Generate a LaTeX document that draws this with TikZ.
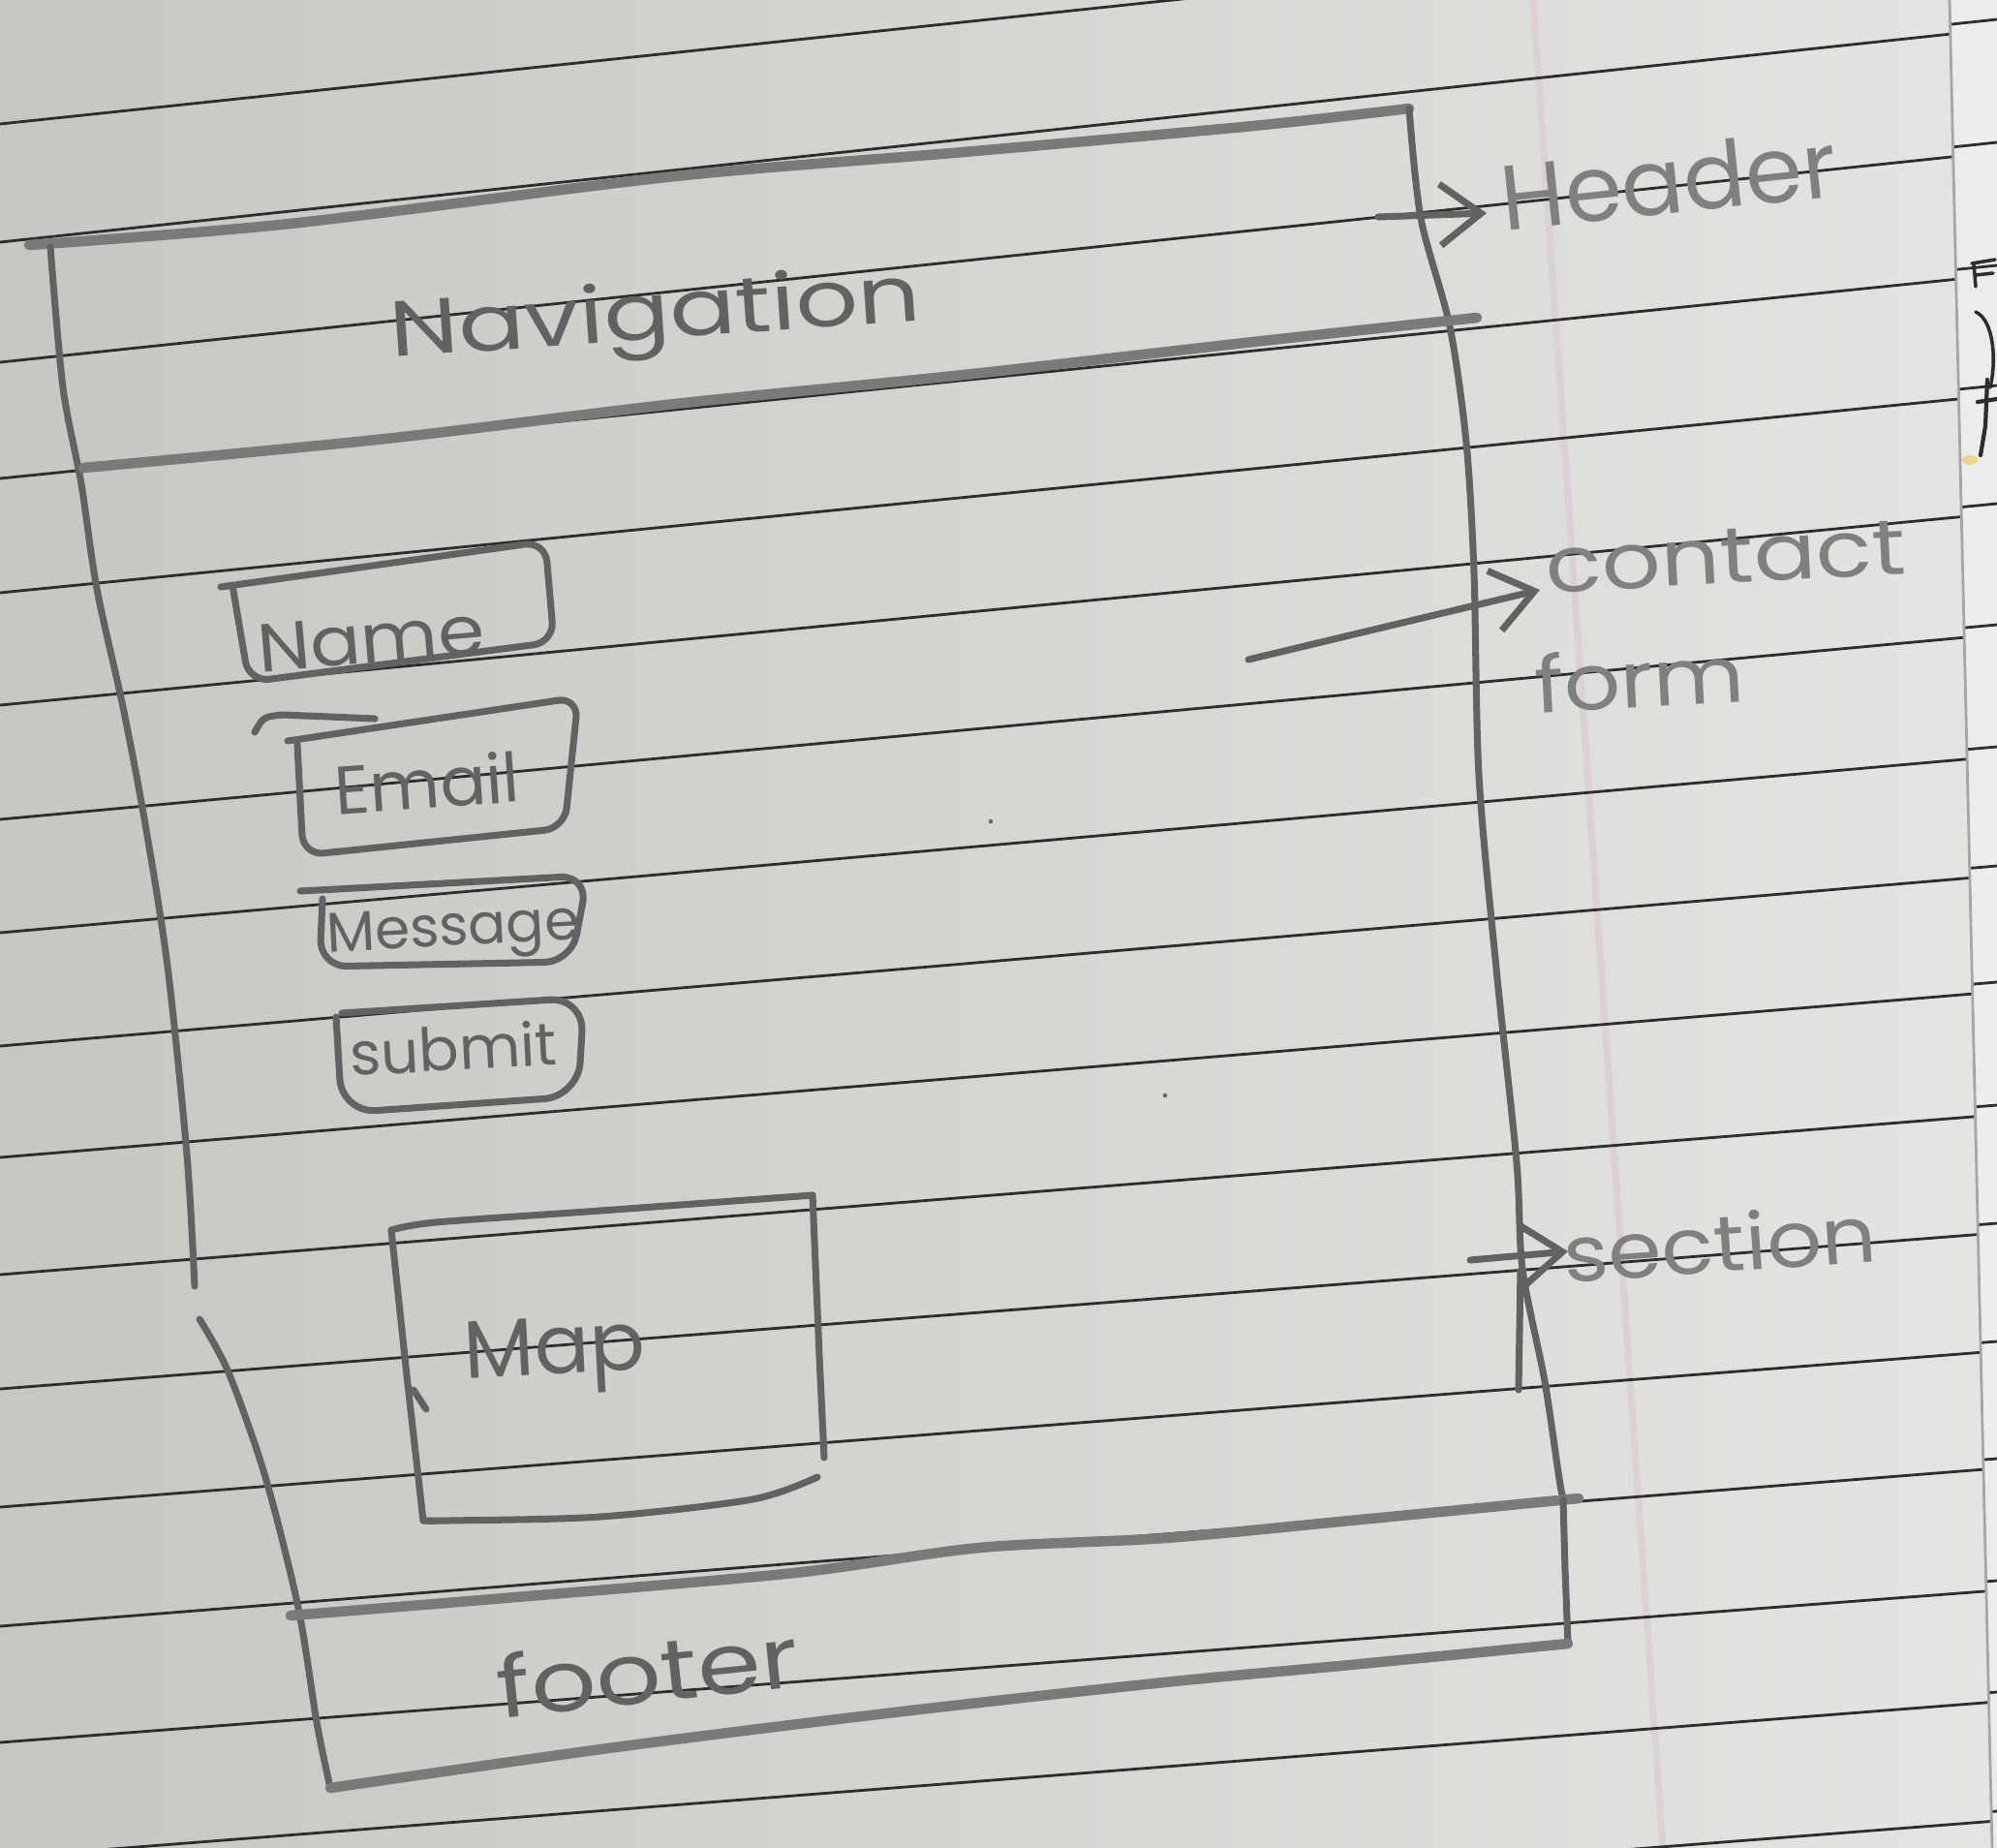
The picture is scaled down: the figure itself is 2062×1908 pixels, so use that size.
\documentclass[tikz,border=0pt]{standalone}
\usepackage{fontspec}
\setmainfont{Poppins}
\usetikzlibrary{arrows.meta}

\definecolor{paperL}{RGB}{198,198,194}
\definecolor{paperR}{RGB}{228,228,226}
\definecolor{nextpage}{RGB}{236,236,236}
\definecolor{ruleink}{RGB}{45,45,45}
\definecolor{pencil}{RGB}{98,98,98}
\definecolor{pencilsoft}{RGB}{122,122,122}
\definecolor{pencilpale}{RGB}{128,128,128}
\definecolor{marginpink}{RGB}{214,182,196}

% handwritten word: size, horizontal stretch, text
\newcommand{\hw}[3]{\scalebox{#2}[1]{\fontsize{#1}{#1}\selectfont #3}}

\tikzset{
  pen/.style={draw=pencil, line width=2pt, line cap=round, line join=round},
  softpen/.style={draw=pencilsoft, line width=3pt, line cap=round, line join=round},
  ruled/.style={draw=ruleink, line width=0.8pt},
  hand/.style={text=pencil, inner sep=0pt},
  palehand/.style={text=pencilpale, inner sep=0pt},
  labelarrow/.style={pen, -{Straight Barb[length=12pt,width=18pt]}},
}

\begin{document}
\begin{tikzpicture}[x=0.01cm,y=-0.01cm]
\useasboundingbox (0,0) rectangle (2062,1908);

% paper
\fill[left color=paperL, right color=paperR] (0,0) rectangle (2062,1908);
\fill[nextpage] (2013,0) -- (2062,0) -- (2062,1908) -- (2057,1908) -- cycle;

% ruled lines of the notebook page
\begin{scope}
  \clip (0,0) -- (2013,0) -- (2057,1908) -- (0,1908) -- cycle;
  \draw[marginpink, line width=2pt, opacity=0.3] (1583,0) -- (1717,1908);
  \foreach \L/\R in {128/-90,250/30,374/157,494/284,612/408,728/530,846/655,963/781,
                     1080/904,1195/1024,1316/1151,1434/1273,1556/1395,1679/1516,
                     1799/1642,1918/1757,2040/1880}
    \draw[ruled] (0,\L) -- (2062,\R);
\end{scope}
\begin{scope}
  \clip (2013,0) -- (2062,0) -- (2062,1908) -- (2057,1908) -- cycle;
  \foreach \L/\R in {250/30,374/157,494/284,612/408,728/530,846/655,963/781,
                     1080/904,1195/1024,1316/1151,1434/1273,1556/1395,1679/1516,
                     1799/1642,1918/1757,2040/1880}
    \draw[ruled] (0,\L-10) -- (2062,\R-10);
\end{scope}
\draw[gray!70, line width=0.8pt] (2013,0) -- (2057,1908);

% marks showing through from the facing page
\draw[ruleink, line width=1pt, line cap=round] (2036,272) -- (2060,268) (2040,284) -- (2058,282) (2038,272) -- (2040,296);
\draw[ruleink, line width=1pt, line cap=round] (2040,322) .. controls (2058,330) and (2062,370) .. (2055,400);
\draw[ruleink, line width=1.2pt, line cap=round] (2042,415) -- (2062,412) (2052,392) -- (2050,440) (2050,440) -- (2045,470);
\fill[yellow!50!brown, opacity=0.5] (2034,475) ellipse (8 and 5);

% stray pencil specks
\foreach \p in {(1023,848),(1203,1131)}
  \fill[pencil] \p circle (2.2);

% ---------------- page frame ----------------
% header top edge
\draw[softpen] plot[smooth] coordinates {(30,253) (299,231) (697,182) (995,157) (1294,130) (1455,112)};
% right edge of header and section
\draw[pen] plot[smooth] coordinates {(1455,112) (1467,225) (1497,337) (1514,457) (1522,591)
  (1527,800) (1545,1000) (1566,1200) (1572,1310) (1595,1426) (1611,1533) (1616,1550)};
\draw[pen] (1570,1312) -- (1568,1435);
% left edge, upper stroke
\draw[pen] plot[smooth] coordinates {(52,255) (65,400) (84,500) (100,608) (127,730) (150,851)
  (173,998) (193,1192) (201,1328)};
% left edge, lower stroke down to the footer
\draw[pen] plot[smooth] coordinates {(206,1362) (236,1417) (274,1525) (308,1660) (327,1778) (341,1846)};
% navigation bar bottom
\draw[softpen] plot[smooth] coordinates {(86,483) (398,453) (697,417) (995,387) (1294,353) (1525,328)};
% section bottom = footer top
\draw[softpen] plot[smooth] coordinates {(300,1668) (533,1649) (820,1624) (1011,1598) (1203,1588)
  (1394,1570) (1630,1547)};
% footer right and bottom
\draw[pen] (1614,1548) -- (1616,1620) -- (1619,1697);
\draw[softpen] plot[smooth] coordinates {(341,1846) (628,1805) (915,1769) (1202,1737) (1394,1719) (1619,1697)};

% ---------------- form fields ----------------
\draw[pen, rounded corners=6] (228,606) -- (563,559) -- (572,663) -- (257,704) -- (240,604);
\draw[pen, rounded corners=6] (297,765) -- (597,720) -- (583,855) -- (313,883) -- (307,769);
\draw[pen] (263,756) .. controls (272,740) .. (292,738) -- (387,742);
\draw[pen, rounded corners=8] (310,920) -- (607,904) -- (590,993) -- (330,998) -- (333,928);
\draw[pen, rounded corners=10] (353,1046) -- (603,1030) -- (597,1132) -- (353,1149) -- (347,1050);

% ---------------- map ----------------
\draw[pen] plot[smooth] coordinates {(404,1270) (450,1262) (620,1250) (839,1234)};
\draw[pen] (839,1234) -- (846,1400) -- (851,1505);
\draw[pen] plot[smooth] coordinates {(844,1525) (777,1548) (620,1566) (463,1570) (437,1570)};
\draw[pen] (404,1270) -- (420,1420) -- (437,1570);
\draw[pen] (427,1435) -- (440,1455);

% ---------------- labels ----------------
\node[hand, rotate=4]  (nav)  at (677,330)  {\hw{23pt}{1.25}{Navigation}};
\node[hand, rotate=5]  (name) at (383,660)  {\hw{20pt}{1.1}{Name}};
\node[hand, rotate=4]  (mail) at (441,808)  {\hw{20pt}{1.0}{Email}};
\node[hand, rotate=3]  (msg)  at (468,964)  {\hw{16.5pt}{1.0}{Message}};
\node[hand, rotate=3]  (sub)  at (468,1082) {\hw{17.5pt}{1.0}{submit}};
\node[hand, rotate=3]  (map)  at (573,1400) {\hw{24pt}{1.0}{Map}};
\node[hand, rotate=6]  (foot) at (669,1725) {\hw{25pt}{1.2}{footer}};

\node[palehand, rotate=6] (hdr)  at (1723,186)  {\hw{27pt}{1.0}{Header}};
\node[palehand, rotate=3] (cont) at (1782,575)  {\hw{23pt}{1.18}{contact}};
\node[palehand, rotate=3] (form) at (1693,700)  {\hw{23pt}{1.13}{form}};
\node[palehand, rotate=4] (sect) at (1776,1283) {\hw{23pt}{1.1}{section}};

% arrows pointing from the frame to the labels
\coordinate (hdrFrom)  at (1423,224);
\coordinate (hdrTip)   at (1535,220);
\coordinate (contFrom) at (1289,681);
\coordinate (contTip)  at (1590,609);
\coordinate (sectFrom) at (1518,1301);
\coordinate (sectTip)  at (1619,1292);
\draw[labelarrow] (hdrFrom) -- (hdrTip);
\draw[labelarrow] (contFrom) -- (contTip);
\draw[labelarrow] (sectFrom) -- (sectTip);
\end{tikzpicture}
\end{document}
